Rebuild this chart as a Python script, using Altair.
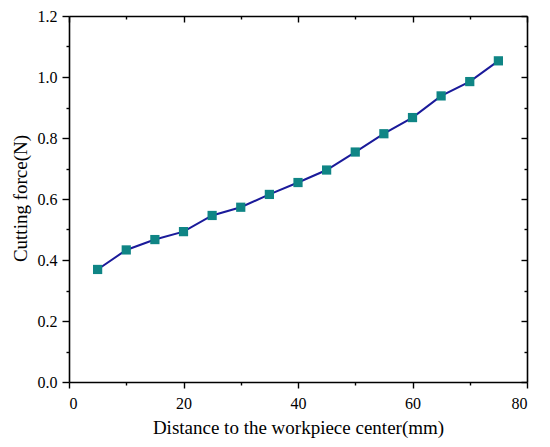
import altair as alt
import pandas as pd

distance = [5, 10, 15, 20, 25, 30, 35, 40, 45, 50, 55, 60, 65, 70, 75]
force = [0.369, 0.433, 0.467, 0.493, 0.546, 0.573, 0.615, 0.654, 0.695,
         0.754, 0.814, 0.867, 0.938, 0.985, 1.053]
x_ticks = [0, 10, 20, 30, 40, 50, 60, 70, 80]
y_ticks = [0, 0.1, 0.2, 0.3, 0.4, 0.5, 0.6, 0.7, 0.8, 0.9, 1.0, 1.1, 1.2]

df = pd.DataFrame({"d": distance, "f": force})

LAB_FONT = "Liberation Serif"
TITLE_FONT = "Liberation Serif"

x_minor = "round(datum.value/10) % 2 == 1"
y_minor = "round(datum.value*10) % 2 == 1"

x_scale = alt.Scale(domain=[0, 80], nice=False, zero=False)
y_scale = alt.Scale(domain=[0, 1.2], nice=False)

common = dict(domainColor="black", domainWidth=1.6, tickColor="black",
              tickWidth=1.4, grid=False)

x_bottom = alt.Axis(values=x_ticks, orient="bottom",
                    labelExpr=f"{x_minor} ? '' : format(datum.value, 'd')",
                    tickSize={"condition": {"test": x_minor, "value": 3}, "value": 6},
                    labelFont=LAB_FONT, labelFontSize=16, labelColor="black",
                    labelPadding=7,
                    title="Distance to the workpiece center(mm)",
                    titleFont=TITLE_FONT, titleFontSize=19, titleFontWeight="normal",
                    titleColor="black", titleBaseline="alphabetic", titleY=51,
                    **common)
y_left = alt.Axis(values=y_ticks, orient="left",
                  labelExpr=f"{y_minor} ? '' : format(datum.value, '.1f')",
                  tickSize={"condition": {"test": y_minor, "value": 3}, "value": 7},
                  labelFont=LAB_FONT, labelFontSize=16, labelColor="black",
                  labelPadding=5,
                  title="Cutting force(N)",
                  titleFont=TITLE_FONT, titleFontSize=19, titleFontWeight="normal",
                  titleColor="black", titleBaseline="middle", titleX=-49, titleY=182,
                  **common)
x_top = alt.Axis(values=x_ticks, orient="top", labels=False, title=None,
                 tickSize={"condition": [{"test": x_minor, "value": -3},
                                         {"test": "true", "value": -6}],
                           "value": 0},
                 **common)
y_right = alt.Axis(values=y_ticks, orient="right", labels=False, title=None,
                   tickSize={"condition": [{"test": y_minor, "value": -3},
                                           {"test": "true", "value": -6}],
                             "value": 0},
                   **common)

line = alt.Chart(df).mark_line(color="#1a1a9a", strokeWidth=2).encode(
    x=alt.X("d:Q", scale=x_scale, axis=x_bottom),
    y=alt.Y("f:Q", scale=y_scale, axis=y_left),
)
pts = alt.Chart(df).mark_point(shape="square", filled=True, size=85,
                               color="#0f8585", opacity=1).encode(
    x=alt.X("d:Q", scale=x_scale, axis=x_top),
    y=alt.Y("f:Q", scale=y_scale, axis=y_right),
)

chart = alt.layer(line, pts).properties(
    width=458, height=366,
    autosize=alt.AutoSizeParams(type="none"),
    padding={"left": 61, "top": 8, "right": 15, "bottom": 60},
    background="white",
).configure_view(stroke=None)

chart.save("out.html", embed_options={"renderer": "svg", "actions": False})
